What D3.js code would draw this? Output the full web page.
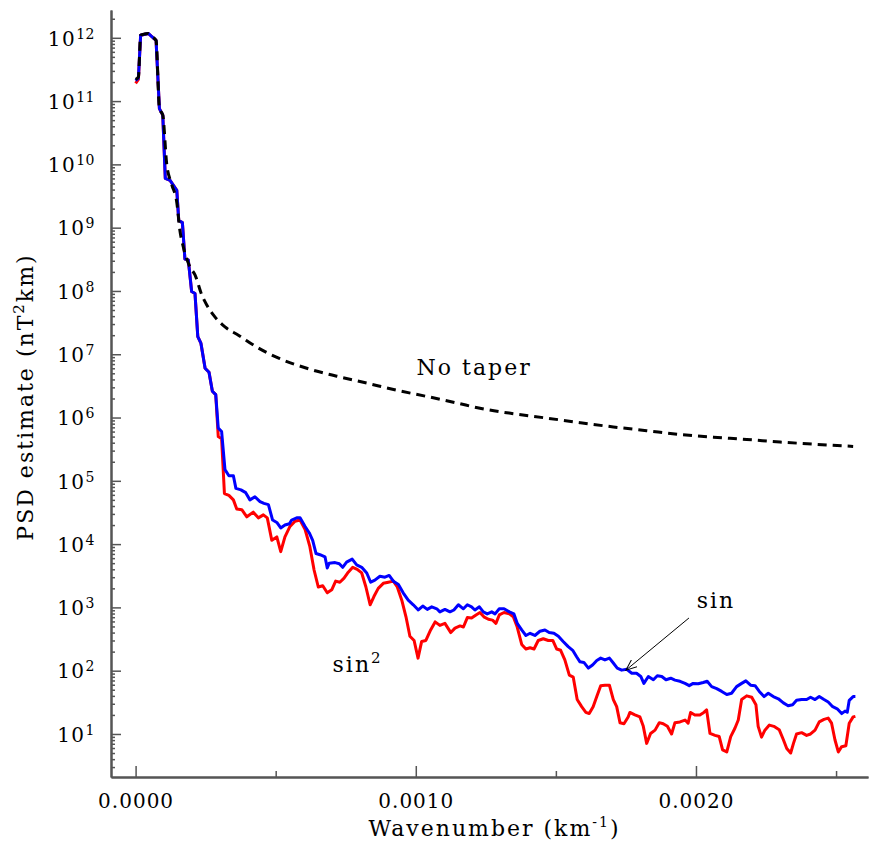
<!DOCTYPE html>
<html>
<head>
<meta charset="utf-8">
<script src="https://cdn.jsdelivr.net/npm/d3@7"></script>
<style>
  body { margin: 0; background: #fff; }
  svg { display: block; font-family: "DejaVu Serif", serif; }
  .axis path, .axis line { stroke: #555; }
  .axis path { stroke-width: 2; }
  .axis line { stroke-width: 1.5; }
  .axis text { font-family: "DejaVu Serif", serif; fill: #000; }
  .lbl { font-size: 22px; letter-spacing: 2px; fill: #000; }
</style>
</head>
<body>
<div id="chart"></div>
<script>
// wavenumber (km^-1), PSD (nT^2 km)
const sinSq = [
  [0, 1.9e11], [0.010e-3, 2.2e11], [0.018e-3, 1.1e12], [0.045e-3, 1.17e12], [0.057e-3, 1.05e12],
  [0.073e-3, 9.1e11], [0.085e-3, 7.6e10], [0.097e-3, 6.0e10], [0.106e-3, 6.0e9], [0.123e-3, 5.6e9],
  [0.147e-3, 3.9e9], [0.154e-3, 1.3e9], [0.167e-3, 1.2e9], [0.176e-3, 3.2e8], [0.188e-3, 3.1e8],
  [0.200e-3, 9.8e7], [0.212e-3, 9.1e7], [0.222e-3, 1.9e7], [0.233e-3, 1.5e7], [0.248e-3, 6.0e6],
  [0.262e-3, 5.2e6], [0.274e-3, 2.6e6], [0.286e-3, 2.3e6], [0.295e-3, 5.0e5], [0.307e-3, 4.6e5],
  [0.317e-3, 6.3e4], [0.333e-3, 5.9e4], [0.349e-3, 5.0e4], [0.361e-3, 3.6e4], [0.379e-3, 3.5e4],
  [0.397e-3, 2.7e4], [0.420e-3, 3.2e4], [0.438e-3, 2.6e4], [0.456e-3, 2.9e4], [0.470e-3, 2.6e4],
  [0.486e-3, 1.15e4], [0.504e-3, 1.3e4], [0.518e-3, 7.6e3], [0.533e-3, 1.3e4], [0.551e-3, 1.9e4],
  [0.569e-3, 2.3e4], [0.587e-3, 2.4e4], [0.605e-3, 1.7e4], [0.622e-3, 9.1e3], [0.637e-3, 3.9e3],
  [0.652e-3, 2.1e3], [0.668e-3, 2.2e3], [0.684e-3, 1.7e3], [0.700e-3, 1.9e3], [0.714e-3, 2.6e3],
  [0.729e-3, 2.5e3], [0.744e-3, 2.9e3], [0.759e-3, 3.6e3], [0.775e-3, 4.3e3], [0.791e-3, 4.0e3],
  [0.807e-3, 3.5e3], [0.822e-3, 2.1e3], [0.837e-3, 1.1e3], [0.851e-3, 1.5e3], [0.866e-3, 2.0e3],
  [0.884e-3, 2.4e3], [0.902e-3, 2.5e3], [0.920e-3, 2.6e3], [0.934e-3, 2.1e3], [0.950e-3, 1.3e3],
  [0.965e-3, 710], [0.979e-3, 350], [0.994e-3, 300], [1.008e-3, 158], [1.021e-3, 290],
  [1.036e-3, 300], [1.053e-3, 440], [1.069e-3, 590], [1.086e-3, 520], [1.104e-3, 560],
  [1.125e-3, 400], [1.140e-3, 470], [1.158e-3, 510], [1.170e-3, 490], [1.184e-3, 690],
  [1.199e-3, 680], [1.215e-3, 760], [1.229e-3, 830], [1.243e-3, 710], [1.259e-3, 650],
  [1.274e-3, 630], [1.286e-3, 560], [1.298e-3, 760], [1.315e-3, 830], [1.334e-3, 790],
  [1.348e-3, 710], [1.362e-3, 490], [1.378e-3, 260], [1.393e-3, 220], [1.408e-3, 230],
  [1.422e-3, 220], [1.437e-3, 300], [1.455e-3, 320], [1.473e-3, 300], [1.489e-3, 300],
  [1.503e-3, 220], [1.517e-3, 210], [1.532e-3, 148], [1.548e-3, 85], [1.562e-3, 79],
  [1.576e-3, 35], [1.592e-3, 27], [1.607e-3, 22], [1.619e-3, 21], [1.633e-3, 27],
  [1.646e-3, 39], [1.660e-3, 58], [1.675e-3, 59], [1.691e-3, 59], [1.705e-3, 35],
  [1.717e-3, 27], [1.729e-3, 15], [1.743e-3, 14.5], [1.758e-3, 18.6], [1.764e-3, 21.9],
  [1.782e-3, 20], [1.800e-3, 18.6], [1.812e-3, 13.2], [1.824e-3, 7.1], [1.838e-3, 10.2],
  [1.854e-3, 11.5], [1.869e-3, 15.1], [1.883e-3, 14.5], [1.898e-3, 13.2], [1.913e-3, 10],
  [1.925e-3, 15.1], [1.943e-3, 15.5], [1.961e-3, 16.6], [1.972e-3, 14.8], [1.981e-3, 21.9],
  [1.996e-3, 20], [2.014e-3, 20], [2.028e-3, 21.9], [2.038e-3, 24], [2.050e-3, 10.2],
  [2.068e-3, 9.5], [2.083e-3, 9.1], [2.095e-3, 5.6], [2.110e-3, 5.2], [2.124e-3, 9.1],
  [2.139e-3, 12.3], [2.151e-3, 16.6], [2.163e-3, 35], [2.181e-3, 40], [2.199e-3, 38],
  [2.214e-3, 29], [2.222e-3, 13.2], [2.234e-3, 8.9], [2.246e-3, 11.5], [2.262e-3, 13.8],
  [2.278e-3, 13.2], [2.297e-3, 11.7], [2.312e-3, 8.1], [2.324e-3, 5.9], [2.338e-3, 5.0],
  [2.348e-3, 7.1], [2.359e-3, 10], [2.377e-3, 10.5], [2.395e-3, 9.5], [2.409e-3, 10],
  [2.425e-3, 11.5], [2.440e-3, 15.5], [2.457e-3, 17], [2.472e-3, 17.8], [2.484e-3, 14.8],
  [2.496e-3, 8.1], [2.508e-3, 5.2], [2.520e-3, 6.3], [2.535e-3, 6.5], [2.547e-3, 14.8],
  [2.561e-3, 18.6], [2.569e-3, 19]
];

const sinTaper = [
  [0, 2.1e11], [0.010e-3, 2.3e11], [0.018e-3, 1.1e12], [0.045e-3, 1.17e12], [0.057e-3, 1.05e12],
  [0.073e-3, 9.1e11], [0.085e-3, 7.6e10], [0.097e-3, 6.0e10], [0.106e-3, 6.0e9], [0.123e-3, 5.6e9],
  [0.147e-3, 3.9e9], [0.154e-3, 1.3e9], [0.167e-3, 1.2e9], [0.176e-3, 3.2e8], [0.188e-3, 3.1e8],
  [0.200e-3, 9.8e7], [0.212e-3, 9.1e7], [0.222e-3, 1.9e7], [0.233e-3, 1.5e7], [0.248e-3, 6.0e6],
  [0.262e-3, 5.2e6], [0.274e-3, 2.6e6], [0.286e-3, 2.3e6], [0.295e-3, 6.8e5], [0.307e-3, 6.0e5],
  [0.319e-3, 1.5e5], [0.333e-3, 1.2e5], [0.349e-3, 1.2e5], [0.358e-3, 7.6e4], [0.376e-3, 7.2e4],
  [0.393e-3, 6.5e4], [0.408e-3, 5.0e4], [0.426e-3, 5.6e4], [0.444e-3, 4.7e4], [0.458e-3, 4.4e4],
  [0.474e-3, 4.2e4], [0.489e-3, 2.4e4], [0.504e-3, 2.2e4], [0.518e-3, 1.8e4], [0.533e-3, 2.0e4],
  [0.549e-3, 2.1e4], [0.557e-3, 2.4e4], [0.575e-3, 2.6e4], [0.587e-3, 2.6e4], [0.605e-3, 1.9e4],
  [0.620e-3, 1.5e4], [0.632e-3, 1.15e4], [0.644e-3, 7.1e3], [0.658e-3, 6.8e3], [0.676e-3, 6.3e3],
  [0.684e-3, 4.2e3], [0.691e-3, 5.0e3], [0.712e-3, 5.1e3], [0.727e-3, 4.9e3], [0.739e-3, 4.3e3],
  [0.753e-3, 5.2e3], [0.773e-3, 5.8e3], [0.789e-3, 4.7e3], [0.807e-3, 4.3e3], [0.825e-3, 3.5e3],
  [0.839e-3, 2.5e3], [0.854e-3, 2.7e3], [0.872e-3, 3.1e3], [0.890e-3, 3.0e3], [0.905e-3, 3.2e3],
  [0.920e-3, 2.6e3], [0.938e-3, 2.3e3], [0.955e-3, 1.7e3], [0.973e-3, 1.3e3], [0.991e-3, 1.1e3],
  [1.009e-3, 910], [1.025e-3, 1050], [1.041e-3, 930], [1.057e-3, 1020], [1.075e-3, 950],
  [1.086e-3, 850], [1.104e-3, 930], [1.122e-3, 850], [1.136e-3, 910], [1.152e-3, 1100],
  [1.170e-3, 950], [1.184e-3, 1100], [1.199e-3, 1020], [1.211e-3, 910], [1.227e-3, 1020],
  [1.241e-3, 850], [1.255e-3, 790], [1.271e-3, 850], [1.283e-3, 790], [1.298e-3, 950],
  [1.315e-3, 950], [1.334e-3, 850], [1.350e-3, 790], [1.362e-3, 560], [1.378e-3, 440],
  [1.393e-3, 360], [1.408e-3, 390], [1.425e-3, 360], [1.443e-3, 420], [1.461e-3, 440],
  [1.476e-3, 400], [1.493e-3, 390], [1.509e-3, 350], [1.526e-3, 290], [1.544e-3, 240],
  [1.560e-3, 210], [1.574e-3, 166], [1.586e-3, 138], [1.600e-3, 135], [1.616e-3, 110],
  [1.631e-3, 123], [1.646e-3, 145], [1.660e-3, 158], [1.675e-3, 148], [1.691e-3, 158],
  [1.705e-3, 132], [1.719e-3, 110], [1.735e-3, 102], [1.753e-3, 105], [1.771e-3, 91],
  [1.788e-3, 91], [1.803e-3, 81], [1.814e-3, 63], [1.830e-3, 81], [1.848e-3, 72],
  [1.862e-3, 83], [1.878e-3, 81], [1.893e-3, 72], [1.910e-3, 76], [1.925e-3, 71],
  [1.943e-3, 68], [1.961e-3, 63], [1.976e-3, 58], [1.990e-3, 63], [2.008e-3, 62],
  [2.026e-3, 65], [2.040e-3, 68], [2.056e-3, 56], [2.074e-3, 52], [2.092e-3, 47],
  [2.110e-3, 42], [2.127e-3, 44], [2.145e-3, 56], [2.163e-3, 63], [2.178e-3, 69],
  [2.195e-3, 59], [2.211e-3, 58], [2.226e-3, 47], [2.243e-3, 39], [2.258e-3, 44],
  [2.276e-3, 39], [2.294e-3, 36], [2.312e-3, 31], [2.329e-3, 28], [2.345e-3, 29],
  [2.359e-3, 34], [2.377e-3, 35], [2.395e-3, 35], [2.409e-3, 38], [2.425e-3, 35],
  [2.440e-3, 39], [2.457e-3, 35], [2.472e-3, 32], [2.488e-3, 27], [2.504e-3, 25],
  [2.520e-3, 21], [2.532e-3, 23], [2.540e-3, 22], [2.547e-3, 34], [2.561e-3, 39],
  [2.569e-3, 39]
];

const noTaper = [
  [0, 2.2e11], [0.010e-3, 2.4e11], [0.018e-3, 1.1e12], [0.045e-3, 1.17e12], [0.057e-3, 1.05e12],
  [0.073e-3, 9.1e11], [0.085e-3, 7.6e10], [0.097e-3, 6.0e10], [0.111e-3, 1.02e10], [0.129e-3, 4.8e9],
  [0.147e-3, 2.5e9], [0.158e-3, 9.1e8], [0.170e-3, 5.0e8], [0.194e-3, 2.4e8], [0.212e-3, 1.8e8],
  [0.236e-3, 8.7e7], [0.254e-3, 6.0e7], [0.283e-3, 3.9e7], [0.319e-3, 2.7e7], [0.367e-3, 2.0e7],
  [0.432e-3, 1.3e7], [0.515e-3, 8.5e6], [0.611e-3, 6.0e6], [0.718e-3, 4.5e6], [0.825e-3, 3.5e6],
  [0.932e-3, 2.7e6], [1.051e-3, 2.1e6], [1.146e-3, 1.7e6], [1.229e-3, 1.4e6], [1.348e-3, 1.15e6],
  [1.467e-3, 9.8e5], [1.586e-3, 8.3e5], [1.705e-3, 7.1e5], [1.824e-3, 6.2e5], [1.943e-3, 5.4e5],
  [2.062e-3, 4.9e5], [2.181e-3, 4.5e5], [2.300e-3, 4.1e5], [2.419e-3, 3.8e5], [2.561e-3, 3.5e5]
];

const xMajor = [0, 0.001, 0.002];
const xMinor = [0.0005, 0.0015, 0.0025];
const yMajor = [1e1, 1e2, 1e3, 1e4, 1e5, 1e6, 1e7, 1e8, 1e9, 1e10, 1e11, 1e12];

const W = 870, H = 844;
const mLeft = 111, mRight = 868, mTop = 10, mBottom = 777;

const x = d3.scaleLinear().domain([-0.0878e-3, 2.614e-3]).range([mLeft, mRight]);
const y = d3.scaleLog().domain([2.09, 2.75e12]).range([mBottom, mTop]);

const svg = d3.select('#chart').append('svg')
  .attr('width', W).attr('height', H);

svg.append('rect').attr('width', W).attr('height', H).attr('fill', '#fff');

// minor log ticks on y
let yMinor = [];
for (let e = 0; e <= 12; e++) {
  for (let m = 2; m <= 9; m++) {
    const v = m * Math.pow(10, e);
    if (v >= y.domain()[0] && v <= y.domain()[1]) yMinor.push(v);
  }
}

svg.append('g').attr('class', 'axis')
  .attr('transform', 'translate(' + mLeft + ',0)')
  .call(d3.axisLeft(y).tickValues(yMinor).tickSize(-4).tickSizeOuter(0).tickFormat(''));

const yAx = svg.append('g').attr('class', 'axis')
  .attr('transform', 'translate(' + mLeft + ',0)')
  .call(d3.axisLeft(y).tickValues(yMajor).tickSize(-10).tickSizeOuter(0).tickPadding(16))
  .attr('font-size', 20);

yAx.selectAll('text').each(function(d) {
  const t = d3.select(this);
  const exp = Math.round(Math.log10(d));
  t.text('').attr('dy', '0.36em');
  t.append('tspan').attr('letter-spacing', 1.5).text('10');
  t.append('tspan').attr('font-size', 14).attr('letter-spacing', 0.5).attr('dy', -7).text(exp);
});

svg.append('g').attr('class', 'axis')
  .attr('transform', 'translate(0,' + mBottom + ')')
  .call(d3.axisBottom(x).tickValues(xMinor).tickSize(-6).tickSizeOuter(0).tickFormat(''));

svg.append('g').attr('class', 'axis')
  .attr('transform', 'translate(0,' + mBottom + ')')
  .call(d3.axisBottom(x).tickValues(xMajor).tickSize(-11).tickSizeOuter(0).tickPadding(17).tickFormat(d3.format('.4f')))
  .attr('font-size', 20)
  .selectAll('text').attr('letter-spacing', 1);

const line = d3.line().x(d => x(d[0])).y(d => y(d[1]));

svg.append('path').datum(sinSq)
  .attr('d', line).attr('fill', 'none').attr('stroke', '#ff0000').attr('stroke-width', 3)
  .attr('stroke-linejoin', 'round');
svg.append('path').datum(sinTaper)
  .attr('d', line).attr('fill', 'none').attr('stroke', '#0000ff').attr('stroke-width', 3)
  .attr('stroke-linejoin', 'round');
svg.append('path').datum(noTaper)
  .attr('d', line.curve(d3.curveMonotoneX)).attr('fill', 'none').attr('stroke', '#000').attr('stroke-width', 3)
  .attr('stroke-dasharray', '9,6');

// annotations
svg.append('text').attr('class', 'lbl')
  .attr('x', x(1.003e-3)).attr('y', y(4.7e6)).text('No taper');

svg.append('text').attr('class', 'lbl')
  .attr('x', x(2.003e-3)).attr('y', y(980)).text('sin');

const s2 = svg.append('text').attr('class', 'lbl')
  .attr('x', x(0.703e-3)).attr('y', y(95));
s2.append('tspan').text('sin');
s2.append('tspan').attr('font-size', 15).attr('dy', -9).text('2');

svg.append('defs').append('marker')
  .attr('id', 'arr').attr('viewBox', '0 0 12 10').attr('refX', 11).attr('refY', 5)
  .attr('markerWidth', 12).attr('markerHeight', 10).attr('markerUnits', 'userSpaceOnUse')
  .attr('orient', 'auto')
  .append('path').attr('d', 'M0,0.5 L11,5 L0,9.5').attr('fill', 'none').attr('stroke', '#000').attr('stroke-width', 1);

svg.append('line')
  .attr('x1', x(1.975e-3)).attr('y1', y(680))
  .attr('x2', x(1.750e-3)).attr('y2', y(102))
  .attr('stroke', '#000').attr('stroke-width', 1).attr('marker-end', 'url(#arr)');

// axis titles
const xt = svg.append('text').attr('class', 'lbl')
  .attr('x', (mLeft + mRight) / 2 + 5).attr('y', 836).attr('text-anchor', 'middle');
xt.append('tspan').text('Wavenumber (km');
xt.append('tspan').attr('font-size', 14).attr('dy', -9).text('-1');
xt.append('tspan').attr('dy', 9).text(')');

const yt = svg.append('text').attr('class', 'lbl')
  .attr('transform', 'translate(33,397) rotate(-90)').attr('text-anchor', 'middle');
yt.append('tspan').text('PSD estimate (nT');
yt.append('tspan').attr('font-size', 15).attr('dy', -9).text('2');
yt.append('tspan').attr('dy', 9).text('km)');
</script>
</body>
</html>
